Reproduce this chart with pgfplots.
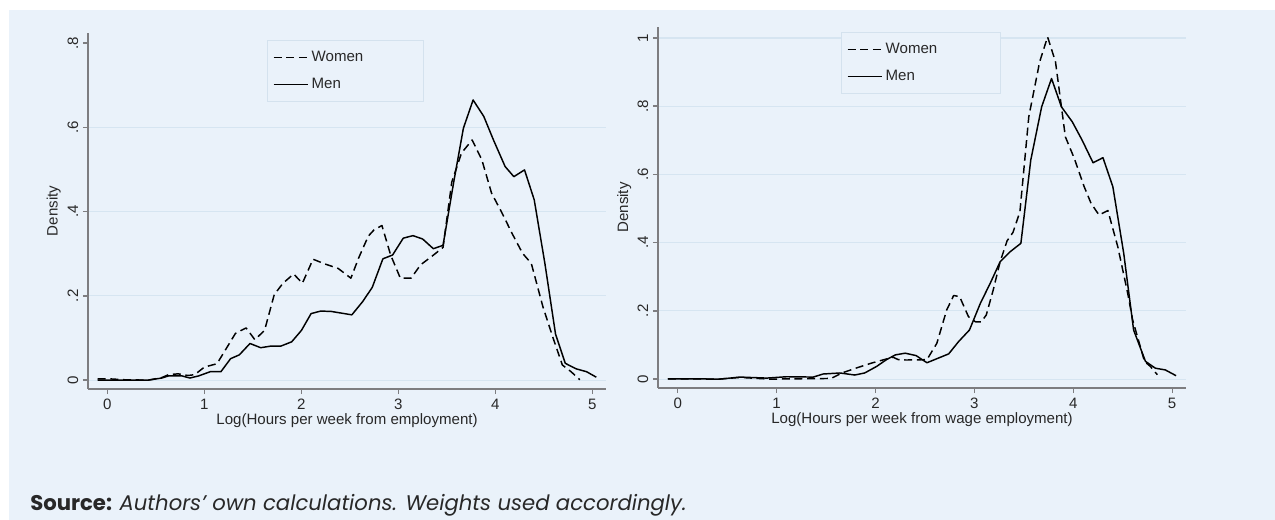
\documentclass[border=0pt]{standalone}
\usepackage{pgfplots}
\usepackage{pgfplotstable}
\pgfplotsset{compat=1.18}
\usepackage{fontspec}
\setmainfont{Liberation Sans}
\newfontfamily\srcfont{Poppins}

\definecolor{bgblue}{RGB}{234,242,250}
\definecolor{gridblue}{RGB}{214,229,241}
\definecolor{axisgray}{RGB}{125,125,128}
\definecolor{txt}{RGB}{40,40,40}
\definecolor{legborder}{RGB}{212,226,238}

% left panel: log hours from employment
\pgfplotstableread{
x y
-0.10 0.000
0.10 0.000
0.42 0.000
0.56 0.005
0.63 0.010
0.77 0.010
0.85 0.005
0.94 0.010
1.06 0.020
1.17 0.020
1.27 0.051
1.36 0.060
1.47 0.087
1.58 0.077
1.69 0.081
1.79 0.081
1.90 0.091
2.00 0.118
2.10 0.158
2.20 0.164
2.31 0.163
2.52 0.155
2.63 0.186
2.73 0.220
2.84 0.288
2.94 0.297
3.05 0.337
3.15 0.343
3.25 0.335
3.36 0.312
3.46 0.320
3.57 0.470
3.67 0.598
3.77 0.665
3.88 0.626
3.98 0.570
4.10 0.507
4.19 0.483
4.30 0.499
4.40 0.428
4.51 0.277
4.62 0.109
4.72 0.040
4.83 0.027
4.94 0.020
5.04 0.007
}\menA
\pgfplotstableread{
x y
-0.10 0.003
0.03 0.003
0.17 0.001
0.42 0.000
0.56 0.006
0.63 0.013
0.73 0.015
0.83 0.011
0.90 0.013
1.00 0.031
1.13 0.039
1.22 0.073
1.32 0.111
1.43 0.124
1.52 0.096
1.62 0.118
1.72 0.203
1.81 0.230
1.92 0.252
2.01 0.230
2.12 0.287
2.24 0.276
2.38 0.265
2.51 0.242
2.59 0.290
2.69 0.342
2.75 0.357
2.83 0.367
2.92 0.297
3.02 0.242
3.13 0.242
3.23 0.274
3.34 0.293
3.46 0.315
3.55 0.470
3.65 0.539
3.76 0.570
3.86 0.523
3.96 0.444
4.07 0.396
4.17 0.349
4.28 0.301
4.37 0.277
4.49 0.174
4.59 0.103
4.69 0.036
4.78 0.020
4.87 0.001
}\womenA

% right panel: log hours from wage employment
\pgfplotstableread{
x y
-0.10 0.001
0.10 0.001
0.42 0.000
0.63 0.006
0.90 0.003
1.10 0.007
1.37 0.006
1.47 0.015
1.64 0.018
1.79 0.012
1.89 0.018
2.01 0.037
2.11 0.057
2.20 0.071
2.30 0.076
2.41 0.069
2.52 0.048
2.74 0.074
2.84 0.110
2.95 0.144
3.06 0.222
3.16 0.281
3.26 0.344
3.36 0.373
3.47 0.398
3.57 0.642
3.68 0.798
3.78 0.881
3.88 0.798
3.99 0.754
4.09 0.700
4.20 0.634
4.30 0.649
4.40 0.564
4.51 0.369
4.61 0.144
4.73 0.052
4.83 0.032
4.93 0.027
5.04 0.010
}\menB
\pgfplotstableread{
x y
-0.10 0.001
0.42 0.000
0.63 0.005
0.93 0.000
1.55 0.002
1.66 0.018
1.81 0.033
1.96 0.047
2.11 0.059
2.18 0.064
2.23 0.057
2.31 0.056
2.52 0.057
2.62 0.105
2.72 0.203
2.79 0.245
2.85 0.242
2.94 0.183
3.01 0.168
3.07 0.168
3.12 0.188
3.19 0.261
3.26 0.344
3.33 0.405
3.39 0.430
3.46 0.490
3.55 0.769
3.66 0.930
3.74 1.003
3.82 0.930
3.92 0.710
4.01 0.647
4.11 0.564
4.18 0.515
4.26 0.481
4.35 0.494
4.45 0.388
4.55 0.252
4.60 0.174
4.72 0.052
4.78 0.037
4.85 0.013
}\womenB

\pgfplotsset{
  statapanel/.style={
    scale only axis,
    anchor=south west,
    axis lines*=left,
    axis line style={-, draw=axisgray, line width=1.4pt},
    tick align=outside,
    major tick length=3.8pt,
    tick style={draw=axisgray, line width=1pt},
    ymajorgrids,
    grid style={gridblue, line width=0.9pt},
    xmin=-0.2, xmax=5.14,
    xtick={0,1,2,3,4,5},
    xticklabels={0,1,2,3,4,5},
    font=\fontsize{11.3}{13}\selectfont,
    tick label style={text=txt},
    yticklabel style={rotate=90, anchor=south},
    ylabel={Density},
    xlabel style={at={(axis description cs:0.5,0)}, anchor=center, yshift=-24pt, text=txt},
    legend cell align=left,
    legend image code/.code={\draw[##1] (0pt,0pt) -- (26pt,0pt);},
    extra tick style={grid=none},
  },
  women/.style={black, line width=1.1pt, dash pattern=on 6pt off 3.5pt, line join=round},
  men/.style={black, line width=1.1pt, line join=round},
  legbox/.style={legend style={at={(#1)}, anchor=north west, draw=legborder, line width=0.8pt,
    fill=bgblue, text=txt, inner xsep=4pt, inner ysep=6pt, row sep=7pt}},
}

\begin{document}
\begin{tikzpicture}
\fill[white] (0pt,0pt) rectangle (956.25pt,390pt);
\fill[bgblue] (6.75pt,0pt) rectangle (956.25pt,382.5pt);

\begin{axis}[statapanel,
  at={(66pt,98.25pt)}, width=388.5pt, height=267pt,
  ymin=-0.021, ymax=0.824,
  ytick={0,0.2,0.4,0.6}, yticklabels={0,.2,.4,.6},
  extra y ticks={0.8}, extra y tick labels={.8},
  xlabel={Log(Hours per week from employment)},
  ylabel style={at={(axis description cs:-0.066,0.5)}, anchor=center, text=txt},
  legbox={0.3456,0.980},
]
\addplot[women] table[x=x, y=y] {\womenA};
\addlegendentry{\makebox[78pt][l]{Women}}
\addplot[men] table[x=x, y=y] {\menA};
\addlegendentry{\makebox[78pt][l]{Men}}
\end{axis}

\begin{axis}[statapanel,
  at={(493.5pt,99pt)}, width=396pt, height=270.75pt,
  ymin=-0.026, ymax=1.032,
  ytick={0,0.2,0.4,0.6,0.8,1}, yticklabels={0,.2,.4,.6,.8,1},
  xlabel={Log(Hours per week from wage employment)},
  ylabel style={at={(axis description cs:-0.064,0.5)}, anchor=center, text=txt},
  legbox={0.3466,0.986},
]
\addplot[women] table[x=x, y=y] {\womenB};
\addlegendentry{\makebox[80pt][l]{Women}}
\addplot[men] table[x=x, y=y] {\menB};
\addlegendentry{\makebox[80pt][l]{Men}}
\end{axis}

\node[anchor=base west, inner sep=0pt, text=txt] at (22.5pt,7pt)
  {\fontsize{15.9}{18}\srcfont{\bfseries Source:} \itshape Authors’ own calculations. Weights used accordingly.};

\pgfresetboundingbox
\useasboundingbox (0pt,0pt) rectangle (956.25pt,390pt);
\end{tikzpicture}
\end{document}
